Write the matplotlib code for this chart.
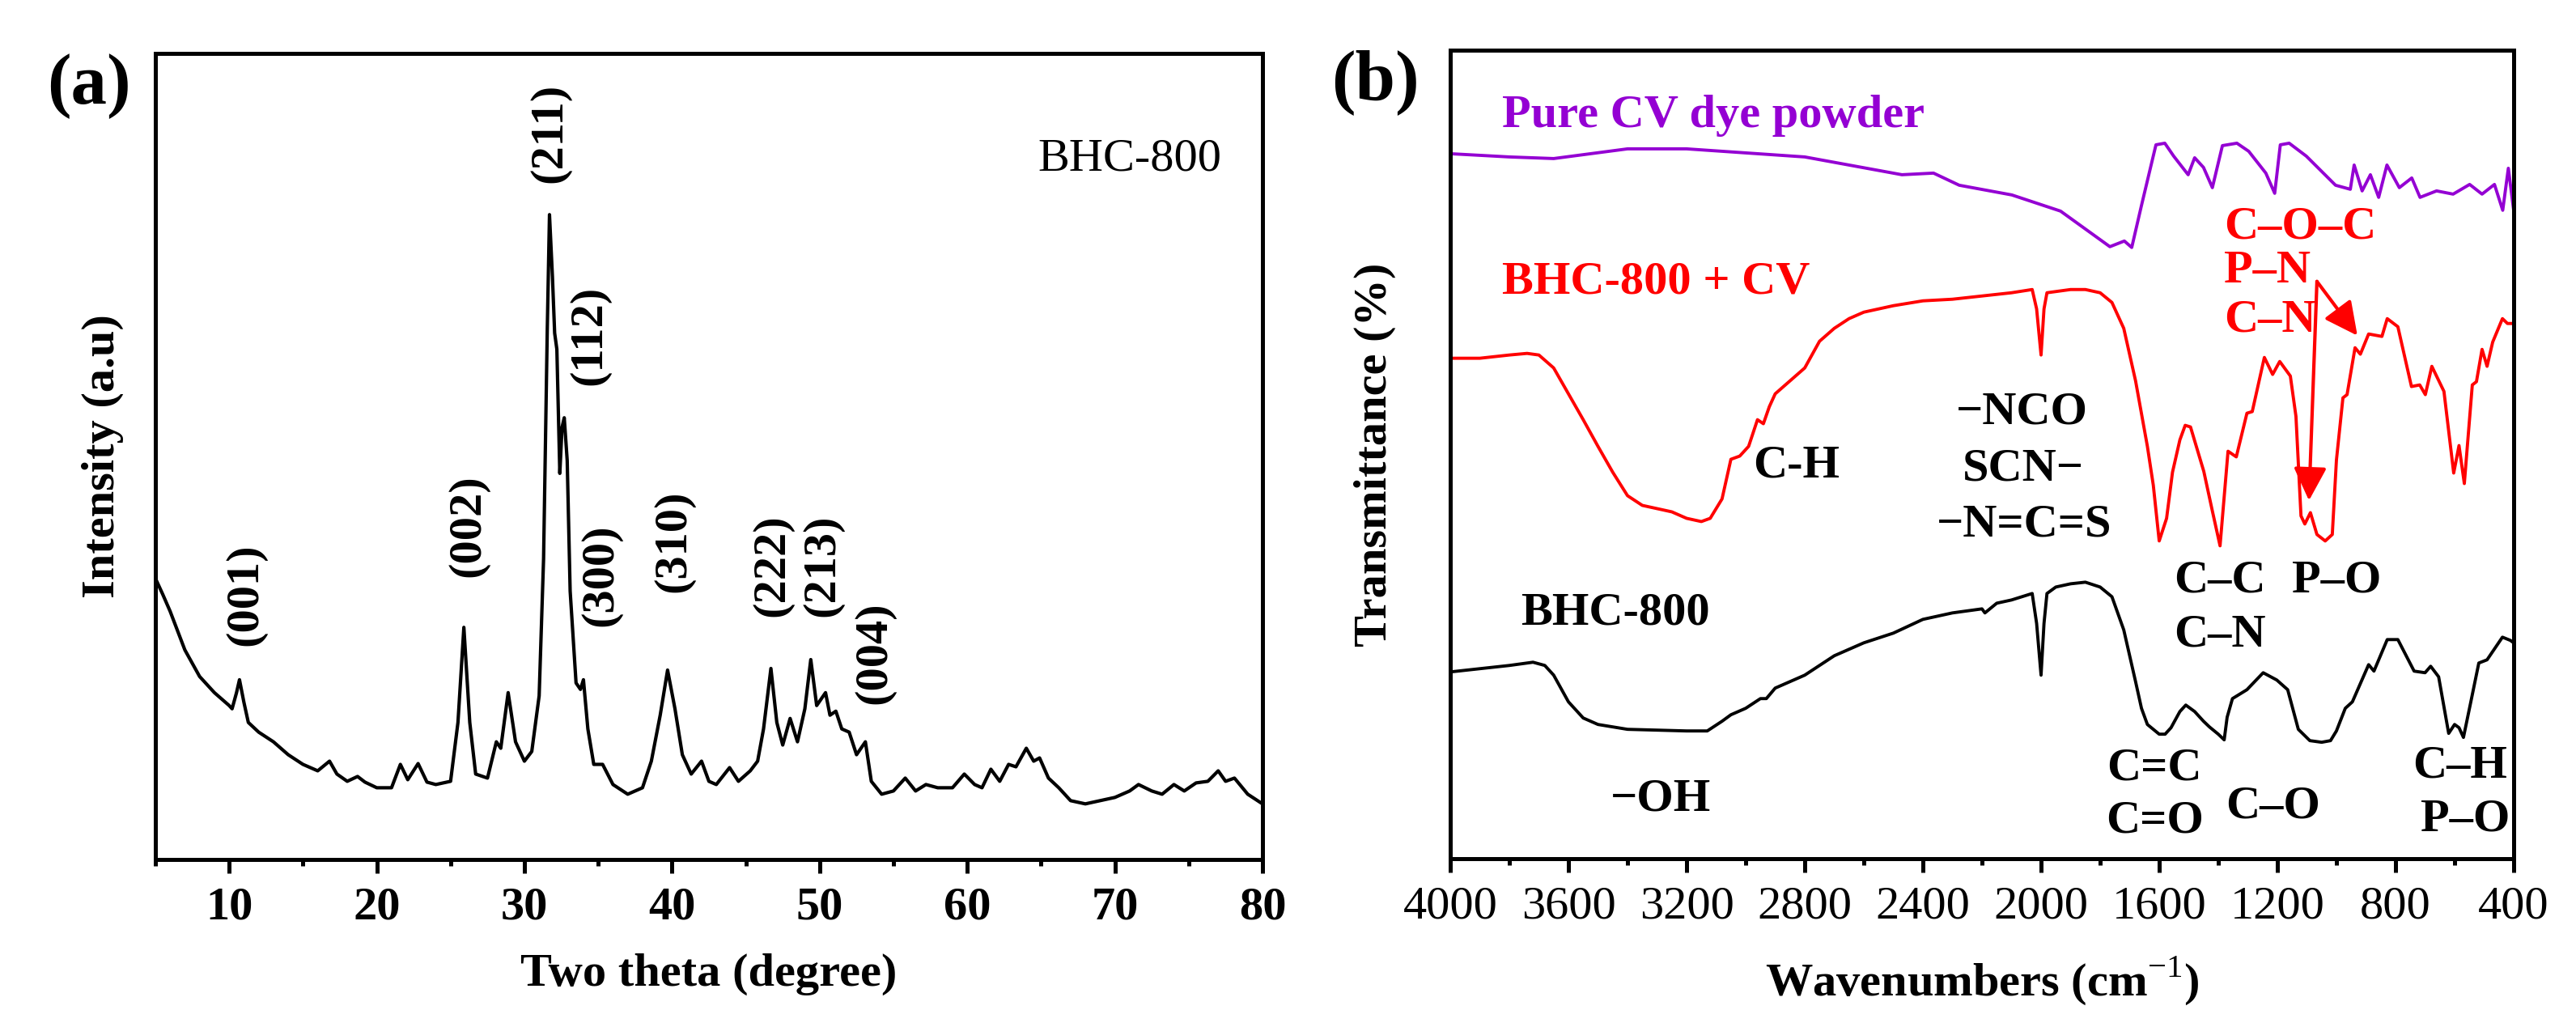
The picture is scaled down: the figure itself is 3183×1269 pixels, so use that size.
import matplotlib
matplotlib.use("Agg")
import matplotlib.pyplot as plt
from matplotlib.patches import FancyArrowPatch
from matplotlib.ticker import MultipleLocator

plt.rcParams["font.family"] = ["Liberation Serif", "DejaVu Serif"]
plt.rcParams["mathtext.fontset"] = "custom"
plt.rcParams["mathtext.rm"] = "Liberation Serif"
plt.rcParams["mathtext.bf"] = "Liberation Serif:bold"

# ---- (a) XRD of BHC-800 (two theta, relative intensity 0-100) -------------
xrd_theta = [5, 5.5, 6, 7, 8, 9, 10, 10.2, 10.5, 10.7, 11.0, 11.3, 12, 13, 14, 15,
             16, 16.8, 17.3, 18, 18.7, 19.2, 20, 21, 21.6, 22.1, 22.8, 23.4, 24,
             25, 25.5, 25.9, 26.3, 26.7, 27.5, 28.1, 28.4, 28.9, 29.4, 30.0, 30.5,
             31.0, 31.3, 31.55, 31.7, 31.9, 32.05, 32.2, 32.4, 32.55, 32.7, 32.9,
             33.1, 33.5, 33.8, 34.0, 34.3, 34.7, 35.3, 36, 37, 38, 38.6, 39.2,
             39.7, 40.2, 40.7, 41.3, 42, 42.5, 43, 43.9, 44.5, 45.3, 45.8, 46.2,
             46.7, 47.1, 47.5, 48.0, 48.5, 49.0, 49.4, 49.8, 50.4, 50.7, 51.1,
             51.5, 52.0, 52.5, 53.1, 53.5, 54.2, 55, 55.8, 56.5, 57.2, 58, 59,
             59.8, 60.5, 61.0, 61.6, 62.2, 62.8, 63.3, 64.0, 64.5, 64.9, 65.5,
             66.2, 67, 68, 69, 70, 71.0, 71.6, 72.5, 73.2, 74.0, 74.7, 75.5,
             76.3, 77.0, 77.5, 78.1, 79, 80]
xrd_int = [34.9, 32.9, 30.8, 26.0, 22.7, 20.7, 19.1, 18.7, 20.7, 22.3, 19.5, 17.0,
           15.8, 14.6, 13.0, 11.8, 11.0, 12.2, 10.6, 9.7, 10.3, 9.6, 8.9, 8.9,
           11.8, 9.9, 11.9, 9.6, 9.3, 9.7, 17.0, 28.8, 17.0, 10.6, 10.1, 14.6,
           13.8, 20.7, 14.6, 12.2, 13.4, 20.3, 37.3, 65.7, 80.0, 72.3, 65.3,
           63.3, 47.9, 53.6, 54.8, 49.5, 33.3, 21.9, 21.1, 22.3, 16.2, 11.8,
           11.8, 9.3, 8.1, 8.9, 12.2, 17.9, 23.5, 18.7, 13.0, 10.6, 12.2, 9.7,
           9.3, 11.4, 9.7, 11.0, 12.2, 16.2, 23.7, 17.0, 14.2, 17.5, 14.6, 18.7,
           24.8, 19.1, 20.7, 17.9, 18.4, 16.2, 15.8, 13.0, 14.6, 9.7, 8.1, 8.5,
           10.1, 8.5, 9.3, 8.9, 8.9, 10.6, 9.3, 8.9, 11.2, 9.7, 11.8, 11.5,
           13.8, 12.2, 12.6, 10.1, 8.9, 7.3, 6.9, 7.3, 7.7, 8.5, 9.3, 8.5, 8.1,
           9.3, 8.5, 9.5, 9.7, 11.0, 9.7, 10.1, 8.1, 6.9]

peak_labels = ["(001)", "(002)", "(211)", "(112)", "(300)", "(310)", "(222)", "(213)", "(004)"]
peak_theta = [11.1, 26.2, 31.7, 34.4, 35.2, 40.1, 46.8, 50.2, 53.7]
peak_label_y = [32.9, 41.4, 90.1, 65.0, 35.3, 39.5, 36.5, 36.5, 25.6]

# ---- (b) FTIR spectra (wavenumber, relative transmittance 0-100) ----------
cv_wn = [4000, 3800, 3650, 3400, 3200, 3000, 2800, 2471, 2364, 2277, 2099, 1934,
         1767, 1718, 1693, 1660, 1611, 1581, 1551, 1502, 1480, 1450, 1420, 1386,
         1337, 1297, 1239, 1209, 1190, 1160, 1102, 1003, 953, 940, 913, 885, 857,
         829, 787, 745, 717, 661, 605, 549, 507, 465, 437, 418, 400]
cv_t = [87.2, 86.8, 86.6, 87.8, 87.8, 87.3, 86.8, 84.6, 84.8, 83.3, 82.1, 80.1,
        75.7, 76.4, 75.6, 80.8, 88.3, 88.5, 86.9, 84.6, 86.7, 85.5, 83.0, 88.2,
        88.5, 87.5, 84.8, 82.3, 88.3, 88.5, 86.9, 83.3, 82.8, 85.8, 82.6, 84.6,
        81.8, 85.8, 83.0, 84.2, 81.8, 82.6, 82.2, 83.4, 82.2, 83.4, 80.2, 85.4, 80.2]

mix_wn = [4000, 3900, 3800, 3740, 3700, 3650, 3600, 3550, 3500, 3450, 3400, 3350,
          3300, 3250, 3200, 3150, 3120, 3080, 3050, 3020, 2990, 2960, 2940, 2920,
          2900, 2850, 2800, 2750, 2700, 2650, 2600, 2500, 2400, 2300, 2200, 2100,
          2030, 2015, 2000, 1990, 1980, 1900, 1850, 1800, 1760, 1720, 1680, 1640,
          1620, 1600, 1575, 1555, 1530, 1512, 1494, 1449, 1420, 1394, 1367, 1339,
          1303, 1285, 1244, 1216, 1192, 1156, 1137, 1120, 1107, 1088, 1066, 1038,
          1014, 1000, 978, 964, 937, 919, 891, 846, 828, 792, 746, 718, 699, 677,
          636, 603, 585, 567, 540, 526, 507, 490, 471, 438, 421, 400]
mix_t = [61.9, 61.9, 62.3, 62.5, 62.3, 60.7, 57.5, 54.3, 51.0, 47.8, 44.9, 43.7,
         43.3, 42.9, 42.1, 41.7, 42.1, 44.5, 49.4, 49.8, 51.0, 54.3, 53.8, 55.9,
         57.5, 59.1, 60.7, 64.0, 65.6, 66.8, 67.6, 68.4, 69.0, 69.2, 69.6, 70.0,
         70.4, 68.0, 62.3, 68.0, 70.0, 70.4, 70.4, 70.0, 68.8, 65.6, 59.1, 51.0,
         46.2, 39.3, 42.1, 47.8, 51.8, 53.6, 53.4, 47.9, 43.0, 38.7, 50.4, 49.7,
         55.1, 55.3, 62.0, 59.9, 61.5, 59.7, 54.7, 42.4, 41.4, 42.8, 40.1, 39.3,
         40.1, 49.3, 57.0, 57.4, 63.2, 62.4, 64.9, 64.6, 66.8, 65.8, 58.4, 58.6,
         57.4, 60.9, 57.8, 47.7, 51.1, 46.4, 58.6, 59.0, 63.0, 60.9, 63.9, 66.8,
         66.2, 66.2]

bhc_wn = [4000, 3900, 3800, 3720, 3680, 3650, 3600, 3550, 3500, 3400, 3200, 3130,
          3080, 3050, 3000, 2950, 2930, 2900, 2800, 2700, 2600, 2500, 2400, 2300,
          2200, 2190, 2150, 2100, 2030, 2015, 2000, 1990, 1980, 1950, 1900, 1850,
          1800, 1760, 1720, 1680, 1660, 1640, 1600, 1580, 1560, 1530, 1510, 1480,
          1450, 1430, 1400, 1380, 1370, 1352, 1303, 1248, 1202, 1165, 1129, 1090,
          1050, 1020, 1000, 970, 946, 891, 873, 828, 792, 737, 700, 681, 654, 620,
          600, 585, 570, 545, 518, 490, 438, 411, 400]
bhc_t = [23.1, 23.5, 23.9, 24.3, 23.9, 22.7, 19.4, 17.4, 16.6, 16.0, 15.8, 15.8,
         17.0, 17.8, 18.6, 19.8, 19.8, 21.1, 22.7, 25.1, 26.7, 27.9, 29.6, 30.4,
         30.9, 30.4, 31.6, 32.0, 32.8, 29.1, 22.7, 29.1, 32.8, 33.6, 34.0, 34.2,
         33.6, 32.4, 28.3, 21.9, 18.6, 16.6, 15.4, 15.4, 16.2, 18.2, 19.0, 18.2,
         17.0, 16.3, 15.4, 14.7, 17.5, 19.8, 20.9, 23.0, 22.1, 20.9, 16.0, 14.6,
         14.4, 14.6, 15.8, 18.6, 19.4, 24.0, 23.2, 27.1, 27.1, 23.2, 23.0, 23.8,
         22.5, 15.5, 16.6, 16.2, 15.0, 19.4, 24.2, 24.6, 27.4, 27.0, 26.7]

# band assignments: (text, wavenumber, y, colour, alignment)
band_labels = [
    ("C–O–C", 1380, 78.1, "red", "left"),
    ("P–N", 1380, 72.7, "red", "left"),
    ("C–N", 1380, 66.6, "red", "left"),
    ("−NCO", 2064, 55.2, "black", "center"),
    ("SCN−", 2061, 48.2, "black", "center"),
    ("−N=C=S", 2058, 41.3, "black", "center"),
    ("C-H", 2829, 48.6, "black", "center"),
    ("−OH", 3288, 7.4, "black", "center"),
    ("C–C", 1395, 34.4, "black", "center"),
    ("C–N", 1395, 27.7, "black", "center"),
    ("P–O", 1000, 34.4, "black", "center"),
    ("C=C", 1616, 11.2, "black", "center"),
    ("C=O", 1616, 4.7, "black", "center"),
    ("C–O", 1215, 6.5, "black", "center"),
    ("C–H", 582, 11.5, "black", "center"),
    ("P–O", 565, 4.9, "black", "center"),
]

# arrows from the red labels to the bands
arrow_start = (1066, 71.4)
arrow_tips = [(1093, 44.3), (929, 64.7)]

FS = 42
LW_SPINE = 3.6

fig = plt.figure(figsize=(31.83, 12.69), dpi=100)
ax1 = fig.add_axes([0.0603, 0.1631, 0.4298, 0.7849])
ax2 = fig.add_axes([0.5630, 0.1639, 0.4128, 0.7872])

for ax in (ax1, ax2):
    for sp in ax.spines.values():
        sp.set_linewidth(LW_SPINE)
    ax.set_ylim(0, 100)
    ax.set_yticks([])
    ax.tick_params(axis="x", which="major", direction="out", length=12,
                   width=LW_SPINE, pad=12, labelsize=FS)
    ax.tick_params(axis="x", which="minor", direction="out", length=6,
                   width=LW_SPINE)

# ---- panel (a) -------------------------------------------------------------
ax1.plot(xrd_theta, xrd_int, color="black", lw=3.0)
ax1.set_xlim(5, 80)
ax1.xaxis.set_major_locator(MultipleLocator(10))
ax1.xaxis.set_minor_locator(MultipleLocator(5))
for lab in ax1.get_xticklabels():
    lab.set_fontweight("bold")
ax1.set_xlabel("Two theta (degree)", fontsize=FS, fontweight="bold", labelpad=22)
ax1.set_ylabel("Intensity (a.u)", fontsize=FS, fontweight="bold", labelpad=28)
for lab, tx, ty in zip(peak_labels, peak_theta, peak_label_y):
    ax1.text(tx, ty, lab, rotation=90, ha="center", va="center",
             fontsize=FS, fontweight="bold")
ax1.text(71.0, 86.9, "BHC-800", ha="center", va="center", fontsize=FS)
fig.text(58 / 3183, 1 - 107 / 1269, "(a)", ha="left", va="center",
         fontsize=64, fontweight="bold")

# ---- panel (b) -------------------------------------------------------------
ax2.plot(cv_wn, cv_t, color="#9400D3", lw=2.8)
ax2.plot(mix_wn, mix_t, color="red", lw=2.8)
ax2.plot(bhc_wn, bhc_t, color="black", lw=2.8)
ax2.set_xlim(4000, 400)
ax2.xaxis.set_major_locator(MultipleLocator(400))
ax2.xaxis.set_minor_locator(MultipleLocator(200))
ax2.set_xlabel(r"Wavenumbers (cm$^{-1}$)", fontsize=FS, fontweight="bold", labelpad=24)
ax2.set_ylabel("Transmittance (%)", fontsize=FS, fontweight="bold", labelpad=48)

ax2.text(3826, 91.9, "Pure CV dye powder", color="#9400D3", ha="left", va="center",
         fontsize=FS, fontweight="bold")
ax2.text(3826, 71.3, "BHC-800 + CV", color="red", ha="left", va="center",
         fontsize=FS, fontweight="bold")
ax2.text(3442, 30.4, "BHC-800", color="black", ha="center", va="center",
         fontsize=FS, fontweight="bold")
for txt, wx, wy, col, ha in band_labels:
    ax2.text(wx, wy, txt, color=col, ha=ha, va="center", fontsize=FS, fontweight="bold")

for tip in arrow_tips:
    arr = FancyArrowPatch(arrow_start, tip,
                          arrowstyle="-|>,head_length=0.5,head_width=0.25",
                          mutation_scale=50, color="red", lw=3.0,
                          shrinkA=0, shrinkB=0)
    ax2.add_patch(arr)

fig.text(1645 / 3183, 1 - 102 / 1269, "(b)", ha="left", va="center",
         fontsize=64, fontweight="bold")

fig.savefig("out.png", dpi=100)
